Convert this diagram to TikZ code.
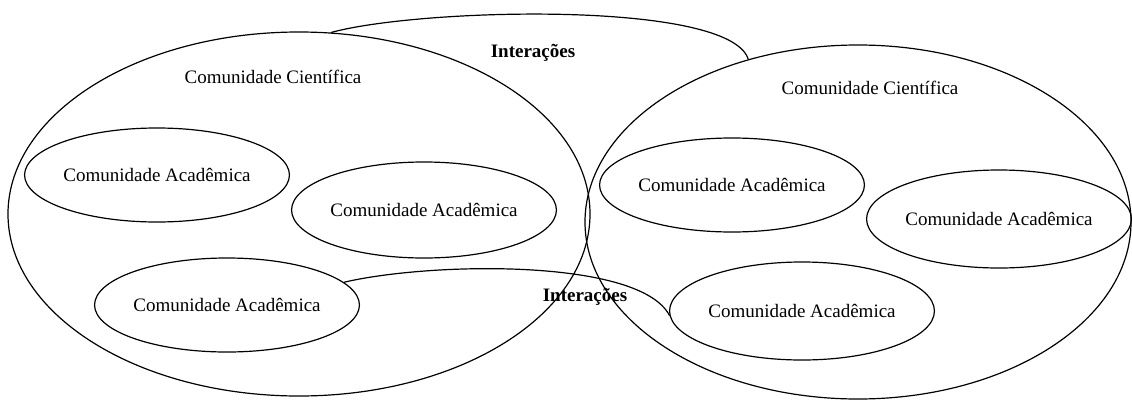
\documentclass[tikz,border=0pt]{standalone}
\usepackage{fontspec}
\setmainfont{Liberation Serif}
\usetikzlibrary{shapes.geometric}
\begin{document}
\begin{tikzpicture}[x=0.75pt,y=-0.75pt,
  every node/.style={font=\fontsize{14.25}{17}\selectfont},
  bigell/.style={draw,ellipse,inner sep=0pt,line width=0.9pt},
  smallell/.style={draw,ellipse,inner sep=0pt,line width=0.9pt,minimum width=192pt,minimum height=72pt},
  lbl/.style={inner sep=0pt},
  bold/.style={inner sep=0pt,font=\fontsize{14.25}{17}\selectfont\bfseries},
  link/.style={line width=0.9pt}]
\useasboundingbox (0,0) rectangle (1132,400);
% big ellipses
\node[bigell,minimum width=436.5pt,minimum height=273pt] (L) at (299,214) {};
\node[bigell,minimum width=409.5pt,minimum height=265.5pt] (R) at (858,222) {};
\node[lbl] (Llab) at (273,77) {Comunidade Científica};
\node[lbl] (Rlab) at (870,88) {Comunidade Científica};
% small ellipses
\node[smallell,minimum width=195pt,minimum height=70.5pt] (A1) at (157,175) {Comunidade Acadêmica};
\node[smallell] (A2) at (424,210) {Comunidade Acadêmica};
\node[smallell,minimum height=70.5pt] (A3) at (227,305) {Comunidade Acadêmica};
\node[smallell,minimum height=70.5pt] (B1) at (732,185) {Comunidade Acadêmica};
\node[smallell,minimum width=193.5pt,minimum height=73.5pt] (B2) at (999,219) {Comunidade Acadêmica};
\node[smallell,minimum width=192.75pt,minimum height=73.5pt] (B3) at (802,311) {Comunidade Acadêmica};
% interaction labels
\node[bold] (I1) at (533,53) {Interações};
\node[bold] (I2) at (585,297) {Interações};
% connectors
\draw[link] (L.80) .. controls (420,8) and (730,0) .. (R.124);
\draw[link] (A3.11) .. controls (430,262) and (640,258) .. (B3.182);
\end{tikzpicture}
\end{document}
